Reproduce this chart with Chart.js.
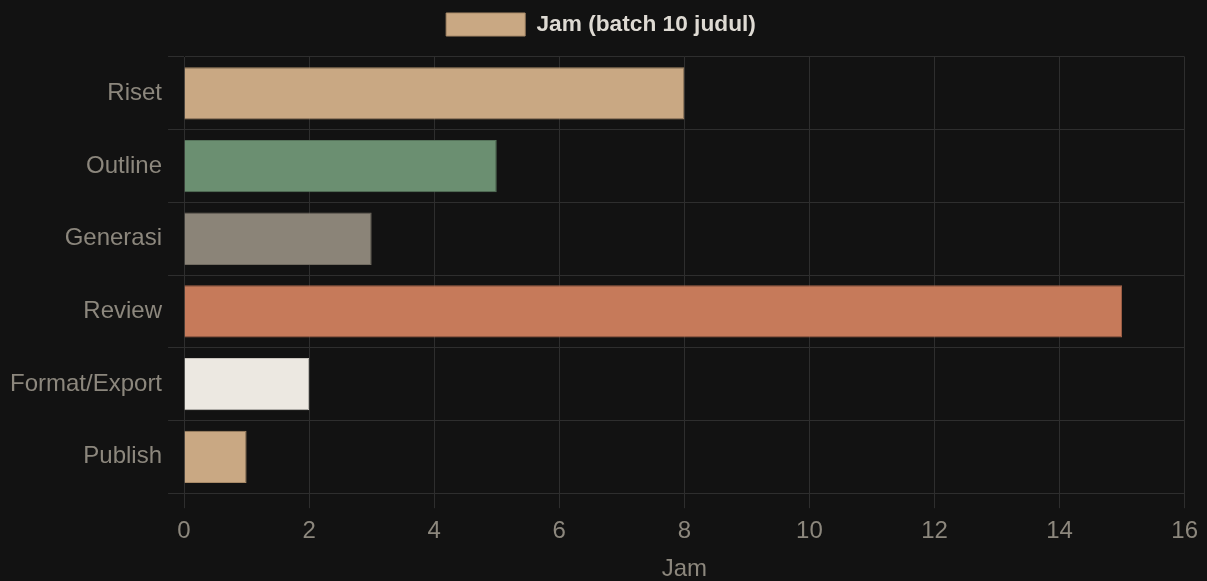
<!DOCTYPE html>
<html lang="id">
<head>
<meta charset="utf-8">
<title>Jam per tahap</title>
<script src="https://cdn.jsdelivr.net/npm/chart.js@4/dist/chart.umd.min.js"></script>
<style>
  html, body { margin: 0; padding: 0; background: #121212; }
  .wrap { width: 1207px; height: 581px; position: relative; }
</style>
</head>
<body>
<div class="wrap"><canvas id="jamChart"></canvas></div>
<script>
const tahap = ['Riset', 'Outline', 'Generasi', 'Review', 'Format/Export', 'Publish'];
const jam = [8, 5, 3, 15, 2, 1];
const warnaBar = ['#c9a883', '#6b8f71', '#8b8478', '#c67a5a', '#ece8e1', '#c9a883'];
const warnaTepi = ['#a88a68', '#56745b', '#716b61', '#a5634a', '#c8c4bd', '#a88a68'];

const fontDasar = '"Liberation Sans", Arial, sans-serif';
const warnaTeks = '#8c877d';
const warnaGrid = '#2e2e2e';

// beri jarak ekstra di bawah legend
const jarakLegend = {
    id: 'jarakLegend',
    beforeInit(chart) {
        const fitAsli = chart.legend.fit;
        chart.legend.fit = function fit() {
            fitAsli.bind(chart.legend)();
            this.height += 11;
        };
    }
};

const ctx = document.getElementById('jamChart').getContext('2d');
new Chart(ctx, {
    type: 'bar',
    data: {
        labels: tahap,
        datasets: [{
            label: 'Jam (batch 10 judul)',
            data: jam,
            backgroundColor: warnaBar,
            borderColor: warnaTepi,
            borderWidth: 1
        }]
    },
    plugins: [jarakLegend],
    options: {
        indexAxis: 'y',
        responsive: true,
        maintainAspectRatio: false,
        animation: false,
        layout: { padding: { left: 4, right: 9 } },
        plugins: {
            legend: {
                labels: {
                    color: '#dedad3',
                    boxWidth: 79,
                    boxHeight: 23,
                    padding: 13,
                    font: { family: fontDasar, size: 22.7, weight: 'bold' }
                }
            },
            tooltip: { enabled: false }
        },
        scales: {
            x: {
                min: 0,
                max: 16,
                ticks: { stepSize: 2, color: warnaTeks, padding: 9, font: { family: fontDasar, size: 24 } },
                grid: { color: warnaGrid, tickLength: 15 },
                border: { color: warnaGrid },
                title: {
                    display: true,
                    text: 'Jam',
                    color: warnaTeks,
                    padding: { top: 2, bottom: 0 },
                    font: { family: fontDasar, size: 24, lineHeight: 1 }
                }
            },
            y: {
                ticks: { color: warnaTeks, padding: 6, font: { family: fontDasar, size: 24 } },
                grid: { color: warnaGrid, tickLength: 16 },
                border: { color: warnaGrid }
            }
        }
    }
});
</script>
</body>
</html>
